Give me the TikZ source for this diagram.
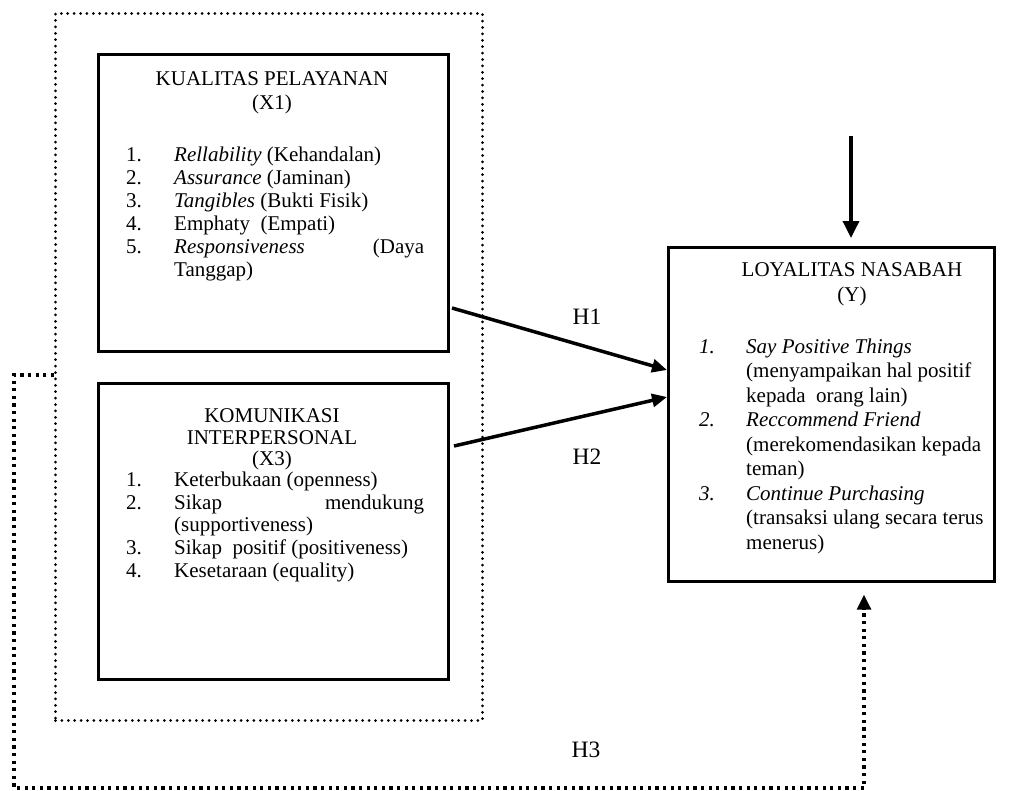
\documentclass[tikz,border=0pt]{standalone}
\usepackage{fontspec}
\setmainfont{Liberation Serif}
\usetikzlibrary{arrows.meta}
\begin{document}
\begin{tikzpicture}[x=1pt,y=-1pt,
  box/.style={draw, line width=2.7pt, rectangle, inner sep=0pt, anchor=north west},
  grpbox/.style={draw, line width=3pt, dash pattern=on 0pt off 6.4pt, line cap=round, rectangle, inner sep=0pt, anchor=north west},
  txt/.style={inner sep=0pt, anchor=base west, font=\fontsize{21}{23}\selectfont},
  ttl/.style={inner sep=0pt, anchor=base, font=\fontsize{21}{23}\selectfont},
  hlab/.style={inner sep=0pt, anchor=base, font=\fontsize{23.5}{25}\selectfont},
  arr/.style={line width=3.5pt, -{Triangle[length=15pt,width=13pt]}},
  outerdot/.style={line width=3.2pt, dash pattern=on 3.2pt off 4.4pt, -{Triangle[length=15pt,width=14pt]}}
]
\useasboundingbox (0,0) rectangle (1028,790);
% group outline
\node[grpbox, minimum width=427pt, minimum height=707pt] (grp) at (54,12) {};
% boxes
\node[box, minimum width=350pt, minimum height=297pt] (x1) at (97,53) {};
\node[box, minimum width=350pt, minimum height=296pt] (x3) at (97,382) {};
\node[box, minimum width=326pt, minimum height=334pt] (y) at (667,246) {};

% X1 text
\node[ttl] (x1t1) at (272,85) {KUALITAS PELAYANAN};
\node[ttl] (x1t2) at (272,109) {(X1)};
\node[txt] (x1n1) at (126,161) {1.};
\node[txt] (x1i1) at (174,161) {\textit{Rellability} (Kehandalan)};
\node[txt] (x1n2) at (126,184) {2.};
\node[txt] (x1i2) at (174,184) {\textit{Assurance} (Jaminan)};
\node[txt] (x1n3) at (126,207) {3.};
\node[txt] (x1i3) at (174,207) {\textit{Tangibles} (Bukti Fisik)};
\node[txt] (x1n4) at (126,230) {4.};
\node[txt] (x1i4) at (174,230) {Emphaty\ \ (Empati)};
\node[txt] (x1n5) at (126,253) {5.};
\node[txt] (x1i5) at (174,253) {\makebox[250pt][s]{\textit{Responsiveness} (Daya}};
\node[txt] (x1i5b) at (174,276) {Tanggap)};

% X3 text
\node[ttl] (x3t1) at (272,422) {KOMUNIKASI};
\node[ttl] (x3t2) at (272,444) {INTERPERSONAL};
\node[ttl] (x3t3) at (272,465) {(X3)};
\node[txt] (x3n1) at (126,486) {1.};
\node[txt] (x3i1) at (174,486) {Keterbukaan (openness)};
\node[txt] (x3n2) at (126,509) {2.};
\node[txt] (x3i2) at (174,509) {\makebox[250pt][s]{Sikap mendukung}};
\node[txt] (x3i2b) at (174,531) {(supportiveness)};
\node[txt] (x3n3) at (126,554) {3.};
\node[txt] (x3i3) at (174,554) {Sikap\ \ positif (positiveness)};
\node[txt] (x3n4) at (126,577) {4.};
\node[txt] (x3i4) at (174,577) {Kesetaraan (equality)};

% Y text
\node[ttl] (yt1) at (852,276) {LOYALITAS NASABAH};
\node[ttl] (yt2) at (852,301) {(Y)};
\node[txt] (yn1) at (699,353) {\textit{1.}};
\node[txt] (yi1) at (746,353) {\textit{Say Positive Things}};
\node[txt] (yi1b) at (746,377.5) {(menyampaikan hal positif};
\node[txt] (yi1c) at (746,402) {kepada\ \ orang lain)};
\node[txt] (yn2) at (699,426.5) {\textit{2.}};
\node[txt] (yi2) at (746,426.5) {\textit{Reccommend Friend}};
\node[txt] (yi2b) at (746,451) {(merekomendasikan kepada};
\node[txt] (yi2c) at (746,475.5) {teman)};
\node[txt] (yn3) at (699,500) {\textit{3.}};
\node[txt] (yi3) at (746,500) {\textit{Continue Purchasing}};
\node[txt] (yi3b) at (746,524.5) {(transaksi ulang secara terus};
\node[txt] (yi3c) at (746,549) {menerus)};

% arrows
\coordinate (h1s) at (452,308);
\coordinate (h2s) at (454,446);
\draw[arr] (h1s) -- (y.west |- 0,370);
\draw[arr] (h2s) -- (y.west |- 0,397);
\node[hlab] (h1) at (587,324) {H1};
\node[hlab] (h2) at (587,464) {H2};

\coordinate (topin) at (851,136);
\draw[arr, -{Triangle[length=17pt,width=16pt]}] (topin) -- ([yshift=8pt]topin |- y.north);

% H3 path
\coordinate (h3a) at (14,375);
\coordinate (h3b) at (14,788);
\coordinate (h3c) at (864,788);
\draw[outerdot] (grp.west |- h3a) -- (h3a) -- (h3b) -- (h3c) -- ([yshift=-12pt]h3c |- y.south);
\node[hlab] (h3) at (586,757) {H3};
\end{tikzpicture}
\end{document}
